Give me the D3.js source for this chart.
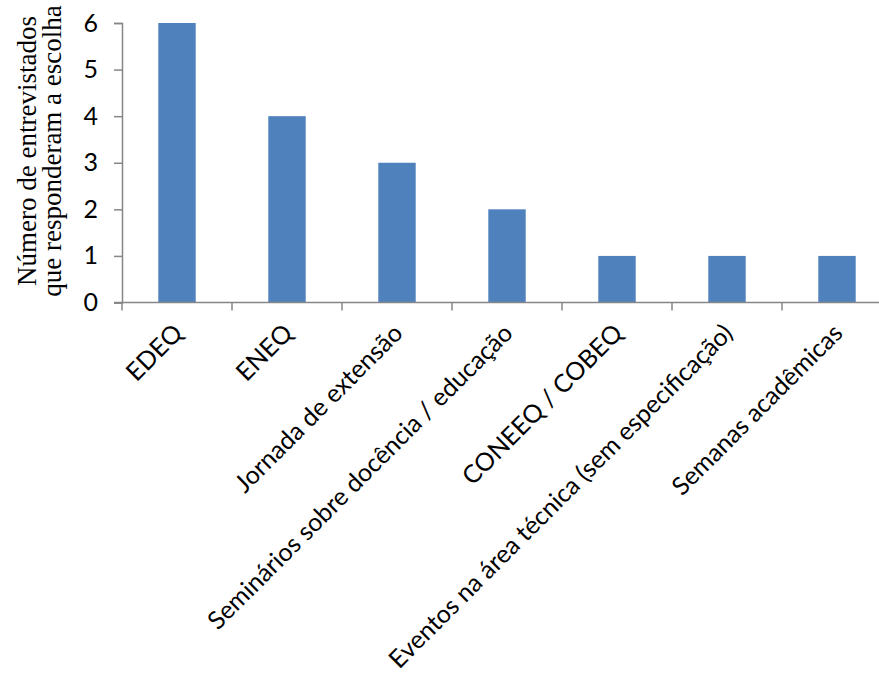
<!DOCTYPE html>
<html>
<head>
<meta charset="utf-8">
<script src="https://cdn.jsdelivr.net/npm/d3@7"></script>
<style>
  html, body { margin: 0; padding: 0; background: #fff; }
  svg { display: block; }
</style>
</head>
<body>
<svg id="chart" width="879" height="673"></svg>
<script>
const categories = [
  "EDEQ",
  "ENEQ",
  "Jornada de extensão",
  "Seminários sobre docência / educação",
  "CONEEQ / COBEQ",
  "Eventos na área técnica (sem especificação)",
  "Semanas acadêmicas"
];
const values = [6, 4, 3, 2, 1, 1, 1];
const yTicks = [0, 1, 2, 3, 4, 5, 6];
const yTitleLines = ["Número de entrevistados", "que responderam a escolha"];

const svg = d3.select("#chart");
const axisColor = "#868686";
const barColor = "#4f81bd";

const x = d3.scaleBand().domain(categories).range([122, 892]).paddingInner(0.66).paddingOuter(0.33);
const y = d3.scaleLinear().domain([0, 6]).range([302.5, 23]);

// bars
svg.append("g").selectAll("rect").data(values).join("rect")
  .attr("x", (d, i) => x(categories[i]))
  .attr("width", x.bandwidth())
  .attr("y", d => y(d))
  .attr("height", d => y(0) - y(d))
  .attr("fill", barColor);

// y axis
const yAxis = svg.append("g").attr("transform", "translate(122,0)")
  .call(d3.axisLeft(y).tickValues(yTicks).tickSize(8).tickPadding(16).tickFormat(d3.format("d")));
yAxis.select(".domain").attr("stroke", axisColor).attr("stroke-width", 1.5);
yAxis.selectAll(".tick line").attr("stroke", axisColor).attr("stroke-width", 1.5);
yAxis.selectAll(".tick text").attr("font-family", "Lato, 'Open Sans', sans-serif").attr("font-size", 25).attr("fill", "#000");

// x axis: boundary ticks
const step = x.step();
const boundaries = d3.range(categories.length + 1).map(i => x.range()[0] + i * step);
svg.append("line").attr("x1", 114).attr("x2", 879).attr("y1", y(0)).attr("y2", y(0))
  .attr("stroke", axisColor).attr("stroke-width", 1.5);
svg.append("g").selectAll("line").data(boundaries).join("line")
  .attr("x1", d => d).attr("x2", d => d).attr("y1", y(0)).attr("y2", y(0) + 8)
  .attr("stroke", axisColor).attr("stroke-width", 1.5);

// x labels
svg.append("g").selectAll("text").data(categories).join("text")
  .attr("transform", d => `translate(${x(d) + x.bandwidth() / 2 + 1},${y(0) + 26}) rotate(-45)`)
  .attr("text-anchor", "end")
  .attr("dy", "0.35em")
  .attr("font-family", "Lato, 'Open Sans', sans-serif")
  .attr("font-size", 25)
  .attr("fill", "#000")
  .text(d => d);

// y title
const title = svg.append("text")
  .attr("transform", "translate(36,151) rotate(-90)")
  .attr("text-anchor", "middle")
  .attr("font-family", "'Liberation Serif', 'Times New Roman', serif")
  .attr("font-size", 27)
  .attr("fill", "#000");
title.selectAll("tspan").data(yTitleLines).join("tspan")
  .attr("x", 0)
  .attr("dy", (d, i) => i === 0 ? 0 : 25)
  .text(d => d);
</script>
</body>
</html>
